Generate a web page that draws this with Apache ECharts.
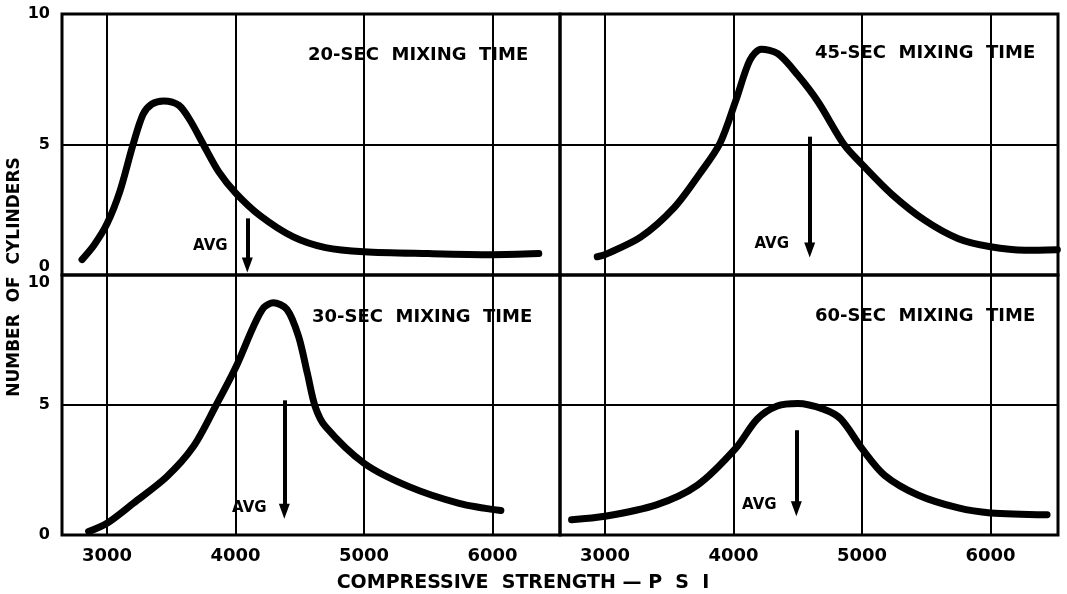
<!DOCTYPE html>
<html><head><meta charset="utf-8">
<script src="https://cdn.jsdelivr.net/npm/echarts@6/dist/echarts.min.js"></script>
<style>html,body{margin:0;padding:0;background:#fff}#c{width:1067px;height:594px}</style>
</head><body><div id="c"></div>
<script>
// ---- data ----
const panelTitles = ['20-SEC  MIXING  TIME', '45-SEC  MIXING  TIME', '30-SEC  MIXING  TIME', '60-SEC  MIXING  TIME'];
const psiTicks = [3000, 4000, 5000, 6000];
const countTicks = [0, 5, 10];
// [compressive strength psi, number of cylinders]
const mix20 = [[2806,0.59],[2900,1.15],[3000,1.96],[3100,3.2],[3200,4.95],[3280,6.15],[3350,6.55],[3440,6.67],[3560,6.5],[3650,5.9],[3750,5.0],[3870,3.95],[4000,3.15],[4190,2.28],[4450,1.46],[4700,1.05],[5000,0.89],[5500,0.82],[6000,0.78],[6360,0.82]];
const mix45 = [[2940,0.70],[3000,0.78],[3280,1.46],[3540,2.59],[3740,3.9],[3895,5.05],[4019,6.7],[4128,8.24],[4215,8.65],[4345,8.48],[4500,7.66],[4660,6.62],[4860,5.0],[5000,4.24],[5230,3.10],[5490,2.09],[5750,1.39],[6000,1.08],[6270,0.95],[6520,0.97]];
const mix30 = [[2857,0.13],[3000,0.45],[3205,1.22],[3465,2.24],[3672,3.40],[3850,5.0],[4004,6.47],[4138,8.0],[4220,8.75],[4294,8.93],[4400,8.68],[4490,7.65],[4560,6.2],[4620,4.94],[4700,4.17],[5000,2.76],[5350,1.86],[5740,1.22],[6065,0.94]];
const mix60 = [[2740,0.59],[3000,0.72],[3400,1.16],[3720,1.92],[4015,3.32],[4185,4.46],[4340,4.96],[4500,5.06],[4700,4.84],[4835,4.46],[5000,3.32],[5175,2.30],[5435,1.54],[5750,1.04],[6000,0.85],[6440,0.78]];
// average strength arrows: psi, arrow start count, arrow tip count
const avgPsi = [4092, 4593, 4380, 4489];
const arrowFrom = [2.17, 5.30, 5.18, 4.03];
const arrowTo = [0.38, 0.96, 0.91, 1.01];

// ---- layout / style ----
const FONT = 'DejaVu Sans';
const panels = [mix20, mix45, mix30, mix60];
const grids = [
  {left: 62, top: 14, width: 498, height: 261},
  {left: 560, top: 14, width: 498, height: 261},
  {left: 62, top: 275, width: 498, height: 260},
  {left: 560, top: 275, width: 498, height: 260}
];
const titlePos = [[308, 46], [815, 44], [312, 308], [815, 307]];
const avgOffset = [[-37, -19], [-38, -6], [-35, -3], [-37, -4]];

const option = {
  animation: false,
  backgroundColor: '#fff',
  title: panelTitles.map((t, i) => ({
    text: t, left: titlePos[i][0], top: titlePos[i][1], padding: 0,
    textStyle: {fontFamily: FONT, fontSize: 18, fontWeight: 'bold', color: '#000'}
  })),
  grid: grids.map(g => Object.assign({show: true, borderColor: '#000', borderWidth: 3, backgroundColor: 'transparent'}, g)),
  xAxis: grids.map((g, i) => ({
    type: 'value', gridIndex: i, min: 2650, max: 6525,
    axisLine: {show: false}, axisTick: {show: false},
    axisLabel: {
      show: i >= 2, margin: 12, fontFamily: FONT, fontSize: 18, fontWeight: 'bold', color: '#000',
      formatter: v => psiTicks.includes(v) ? String(v) : ''
    },
    splitLine: {show: true, lineStyle: {color: '#000', width: 2}}
  })),
  yAxis: grids.map((g, i) => ({
    type: 'value', gridIndex: i, min: countTicks[0], max: countTicks[2], interval: countTicks[1] - countTicks[0],
    axisLine: {show: false}, axisTick: {show: false},
    axisLabel: Object.assign({
      show: i % 2 === 0, margin: 12, fontFamily: FONT, fontSize: 16, fontWeight: 'bold', color: '#000'
    }, i === 0 ? {verticalAlignMinLabel: 'bottom'} : {}, i === 2 ? {verticalAlignMaxLabel: 'top'} : {}),
    splitLine: {show: true, lineStyle: {color: '#000', width: 2}}
  })),
  graphic: [
    {type: 'text', x: 15, y: 277, rotation: Math.PI / 2,
     style: {text: 'NUMBER  OF  CYLINDERS', font: 'bold 17px "DejaVu Sans"', fill: '#000', textAlign: 'center', textVerticalAlign: 'middle'}},
    {type: 'text', x: 523, y: 583,
     style: {text: 'COMPRESSIVE  STRENGTH — P  S  I', font: 'bold 19px "DejaVu Sans"', fill: '#000', textAlign: 'center', textVerticalAlign: 'middle'}}
  ],
  series: []
};

panels.forEach((d, i) => {
  option.series.push({
    type: 'line', xAxisIndex: i, yAxisIndex: i, data: d,
    smooth: 0.3, symbol: 'none', clip: false,
    lineStyle: {color: '#000', width: 7, cap: 'round', join: 'round'},
    markLine: {
      silent: true, symbol: ['none', 'triangle'], symbolSize: [11, 15], symbolOffset: [-7, 0],
      lineStyle: {color: '#000', width: 4, type: 'solid'},
      label: {show: false},
      data: [[{coord: [avgPsi[i], arrowFrom[i]]}, {coord: [avgPsi[i], arrowTo[i]]}]]
    }
  });
  option.series.push({
    type: 'scatter', xAxisIndex: i, yAxisIndex: i,
    data: [[avgPsi[i], arrowTo[i]]], symbolSize: 1,
    itemStyle: {color: 'rgba(0,0,0,0)'},
    label: {show: true, formatter: 'AVG', position: 'inside', offset: avgOffset[i],
      fontFamily: FONT, fontSize: 15, fontWeight: 'bold', color: '#000', textBorderWidth: 0, opacity: 1}
  });
});

const chart = echarts.init(document.getElementById('c'), null, {renderer: 'canvas'});
chart.setOption(option);
</script>
</body></html>
